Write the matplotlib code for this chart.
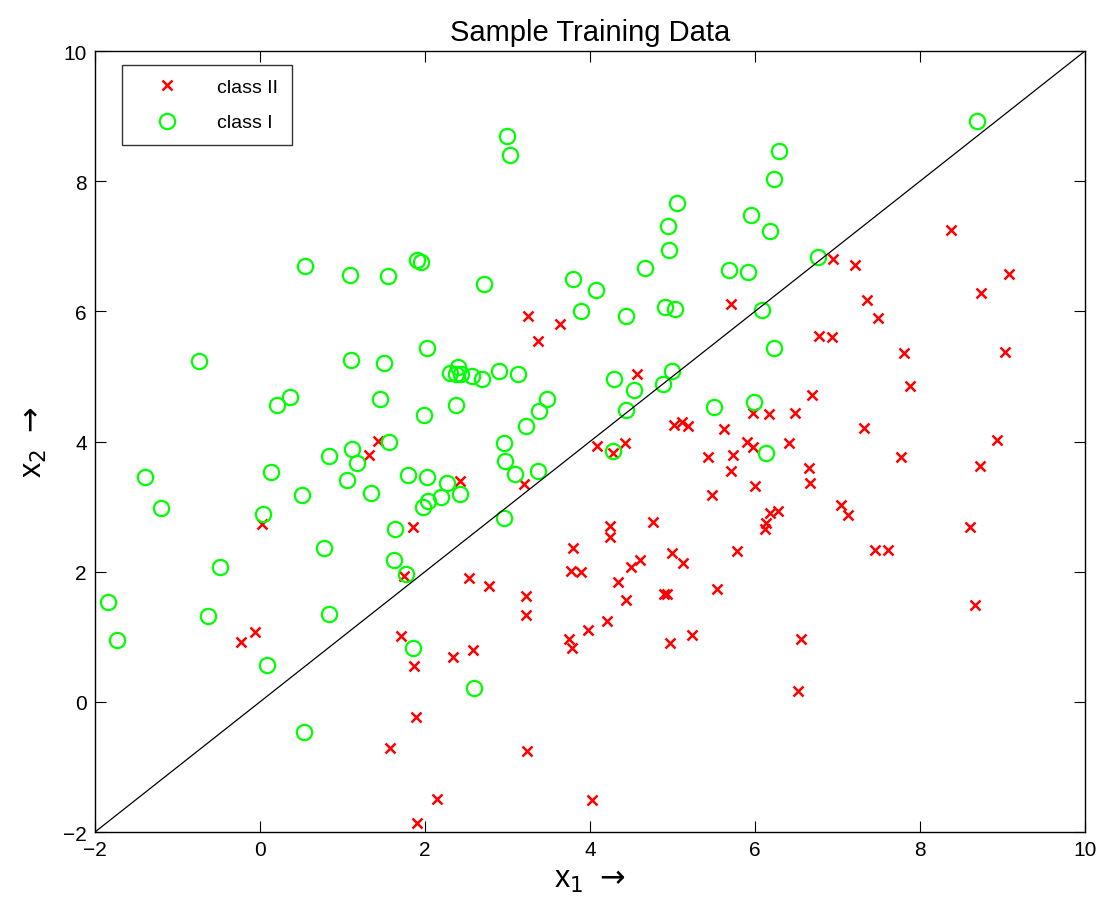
import matplotlib
matplotlib.use('Agg')
import matplotlib.pyplot as plt

plt.rcParams['font.family'] = ['Liberation Sans', 'DejaVu Sans']

# class I (green circles)
x1_class1 = [0.54, 1.09, 1.55, 1.90, 1.95, 3.00, 3.03, 5.06, 4.94, 4.96,
             4.67, 5.68, 5.95, 5.92, 2.72, 3.79, 4.07, 3.89, 4.44, 4.91,
             5.03, 8.69, 6.29, 6.23, 6.18, 6.76, 6.09, -0.74, 1.10, 1.50,
             0.36, 0.21, 1.46, 1.56, 1.12, 1.17, 0.84, -1.39, 0.13, 1.06,
             1.79, 0.51, 1.34, -1.20, 0.04, 1.64, 0.78, 1.63, -0.49, 1.77,
             2.03, 2.30, 2.38, 2.40, 2.44, 2.57, 2.69, 2.90, 3.13, 4.29,
             4.53, 4.99, 4.88, 5.50, 2.38, 1.99, 3.48, 3.38, 3.22, 4.44,
             2.96, 2.97, 3.09, 3.37, 4.28, 2.02, 2.27, 2.43, 2.19, 2.04,
             1.97, 2.96, 6.23, 5.99, 6.13, -1.84, -1.73, -0.63, 0.84, 0.08,
             0.53, 1.86, 2.60]
x2_class1 = [6.69, 6.56, 6.54, 6.79, 6.76, 8.69, 8.40, 7.67, 7.31, 6.95,
             6.67, 6.63, 7.48, 6.61, 6.42, 6.50, 6.33, 6.01, 5.93, 6.07,
             6.04, 8.93, 8.46, 8.04, 7.23, 6.84, 6.02, 5.24, 5.26, 5.21,
             4.68, 4.56, 4.65, 4.00, 3.88, 3.67, 3.78, 3.46, 3.53, 3.41,
             3.49, 3.18, 3.21, 2.98, 2.89, 2.65, 2.36, 2.18, 2.07, 1.97,
             5.43, 5.06, 5.04, 5.14, 5.04, 5.01, 4.96, 5.09, 5.03, 4.96,
             4.79, 5.08, 4.89, 4.53, 4.56, 4.41, 4.65, 4.47, 4.24, 4.48,
             3.97, 3.70, 3.50, 3.54, 3.85, 3.46, 3.37, 3.19, 3.15, 3.09,
             3.00, 2.83, 5.44, 4.60, 3.83, 1.54, 0.95, 1.32, 1.35, 0.57,
             -0.47, 0.82, 0.22]

# class II (red crosses)
x1_class2 = [3.25, 5.71, 3.64, 6.95, 7.21, 8.38, 9.08, 8.74, 7.36, 7.49,
             1.43, 1.32, 0.02, 1.85, 1.75, 3.37, 4.57, 5.02, 5.12, 5.19,
             5.63, 5.90, 5.73, 5.43, 5.71, 5.48, 4.08, 4.42, 4.28, 2.42,
             3.20, 4.24, 4.24, 4.76, 3.79, 3.77, 3.89, 4.50, 4.61, 5.00,
             5.13, 5.78, 2.53, 2.78, 4.34, 6.78, 6.93, 7.80, 9.03, 7.88,
             6.69, 5.97, 6.17, 6.49, 7.32, 5.98, 6.41, 8.93, 7.77, 8.73,
             6.65, 6.67, 6.00, 7.04, 7.13, 6.18, 6.28, 6.13, 6.12, 8.61,
             7.45, 7.61, -0.23, -0.06, 1.71, 1.87, 1.89, 1.57, 1.90, 3.23,
             3.22, 4.44, 4.90, 4.93, 5.54, 4.21, 3.97, 3.74, 3.78, 4.97,
             5.24, 2.34, 2.58, 3.24, 2.15, 4.03, 8.67, 6.56, 6.52]
x2_class2 = [5.93, 6.11, 5.81, 6.80, 6.71, 7.25, 6.58, 6.28, 6.18, 5.90,
             4.01, 3.79, 2.73, 2.69, 1.94, 5.54, 5.03, 4.25, 4.30, 4.24,
             4.19, 4.00, 3.79, 3.76, 3.54, 3.18, 3.93, 3.97, 3.83, 3.40,
             3.34, 2.70, 2.53, 2.77, 2.37, 2.01, 2.00, 2.07, 2.18, 2.28,
             2.13, 2.32, 1.90, 1.78, 1.84, 5.62, 5.61, 5.36, 5.37, 4.86,
             4.71, 4.44, 4.42, 4.44, 4.21, 3.92, 3.97, 4.03, 3.76, 3.63,
             3.59, 3.37, 3.31, 3.02, 2.87, 2.90, 2.93, 2.75, 2.65, 2.68,
             2.34, 2.34, 0.92, 1.08, 1.01, 0.55, -0.24, -0.71, -1.86, 1.63,
             1.34, 1.57, 1.66, 1.66, 1.73, 1.24, 1.11, 0.96, 0.82, 0.91,
             1.03, 0.69, 0.80, -0.76, -1.49, -1.51, 1.49, 0.96, 0.16]

line_x = [-2, 10]
line_y = [-2, 10]

fig = plt.figure(figsize=(11.03, 9.03), dpi=100)
ax = fig.add_axes([0.0861, 0.0775, 0.8976, 0.8649])

ax.plot(x1_class2, x2_class2, 'x', color='red', markersize=7, markeredgewidth=1.8,
        label='class II')
ax.plot(x1_class1, x2_class1, 'o', color='#00ff00', markerfacecolor='none',
        markersize=11, markeredgewidth=1.6, label='class I')
ax.plot(line_x, line_y, color='black', linewidth=0.9)

ax.set_xlim(-2, 10)
ax.set_ylim(-2, 10)
ax.set_xticks(range(-2, 11, 2))
ax.set_yticks(range(-2, 11, 2))
ax.tick_params(direction='in', length=8, top=True, right=True, labelsize=15, pad=6)
for s in ax.spines.values():
    s.set_linewidth(1.0)

ax.set_title('Sample Training Data', fontsize=21, pad=8)
ax.set_xlabel(r'$\mathregular{x}_{1}\ \rightarrow$', fontsize=22, labelpad=3)
ax.set_ylabel(r'$\mathregular{x}_{2}\ \rightarrow$', fontsize=22, labelpad=10)

leg = ax.legend(loc='upper left', bbox_to_anchor=(0.0273, 0.982), borderaxespad=0,
                fontsize=14, frameon=True, fancybox=False, edgecolor='black',
                handlelength=3.2, borderpad=0.7, labelspacing=0.9, handletextpad=1.0)
leg.get_frame().set_linewidth(1.0)

fig.savefig('out.png', dpi=100)
